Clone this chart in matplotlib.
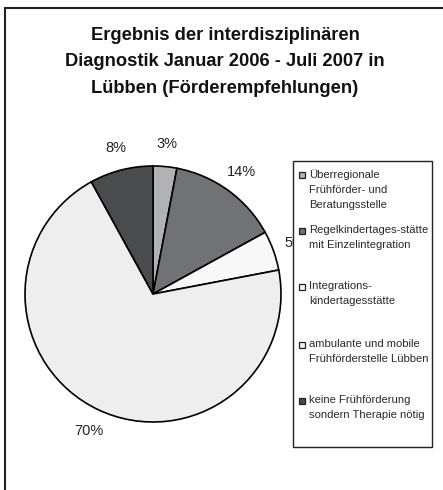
import matplotlib
matplotlib.use("Agg")
import matplotlib.pyplot as plt
from matplotlib.patches import Rectangle

plt.rcParams['font.family'] = ['Liberation Sans', 'DejaVu Sans']

categories = [
    "Überregionale\nFrühförder- und\nBeratungsstelle",
    "Regelkindertages-stätte\nmit Einzelintegration",
    "Integrations-\nkindertagesstätte",
    "ambulante und mobile\nFrühförderstelle Lübben",
    "keine Frühförderung\nsondern Therapie nötig",
]
values = [3, 14, 5, 70, 8]
colors = ["#b1b2b4", "#717275", "#f8f8f8", "#eeeeee", "#4a4b4d"]
title = "Ergebnis der interdisziplinären\nDiagnostik Januar 2006 - Juli 2007 in\nLübben (Förderempfehlungen)"

W, H = 443, 490
fig = plt.figure(figsize=(W / 100, H / 100), dpi=100)

# outer border (right/bottom run off the canvas)
fig.patches.append(Rectangle((5 / W, -0.1), 1.2, 1 - 8 / H + 0.1,
                             transform=fig.transFigure, fill=False,
                             edgecolor="#222222", linewidth=1.5))

fig.text(225 / W, 1 - 62 / H, title, ha="center", va="center",
         fontsize=13.2, fontweight="bold", linespacing=1.7, color="#111111")

cx, cy, r = 153, 294, 128
ax = fig.add_axes([(cx - r) / W, 1 - (cy + r) / H, 2 * r / W, 2 * r / H])
wedges, _, autotexts = ax.pie(values, colors=colors, startangle=90, counterclock=False,
                              autopct=lambda p: f"{p:.0f}%", pctdistance=1.18,
                              wedgeprops=dict(edgecolor="black", linewidth=1.2),
                              textprops=dict(fontsize=10.5, color="#222222"))
ax.set_xlim(-1, 1)
ax.set_ylim(-1, 1)
ax.axis("off")
for t in autotexts:
    t.set_clip_on(False)

# legend box
lx0, ly0, lx1, ly1 = 293, 161, 432, 447
fig.patches.append(Rectangle((lx0 / W, 1 - ly1 / H), (lx1 - lx0) / W, (ly1 - ly0) / H,
                             transform=fig.transFigure, facecolor="white",
                             edgecolor="#222222", linewidth=1.0, zorder=5))
entry_y = [175, 231, 287, 345, 401]
for lab, col, yy in zip(categories, colors, entry_y):
    fig.patches.append(Rectangle((299 / W, 1 - (yy + 3) / H), 6 / W, 6 / H,
                                 transform=fig.transFigure, facecolor=col,
                                 edgecolor="#222222", linewidth=0.9, zorder=6))
    fig.text(309 / W, 1 - (yy - 6) / H, lab, ha="left", va="top",
             fontsize=8.1, linespacing=1.62, color="#2a2a2a", zorder=7)

fig.savefig("out.png", dpi=100)
